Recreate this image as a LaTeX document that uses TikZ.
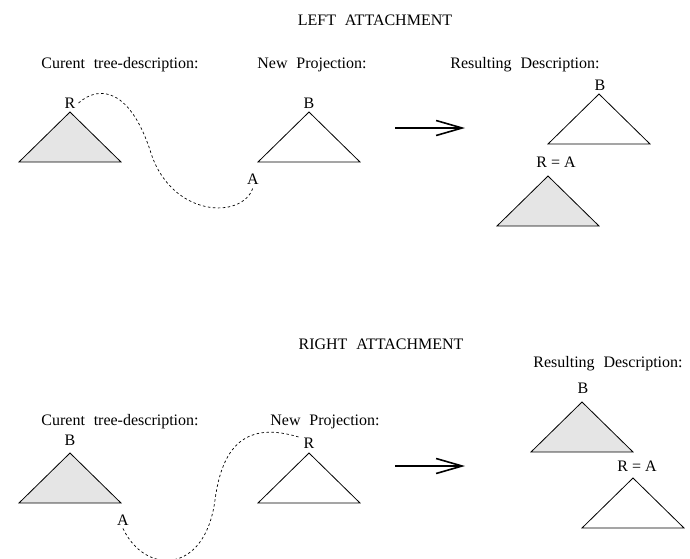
\documentclass[tikz,border=0pt]{standalone}
\usepackage{fontspec}
\setmainfont{Liberation Serif}
\usetikzlibrary{arrows.meta}

\tikzset{
  txt/.style={font=\fontsize{16}{19}\selectfont, inner sep=0pt},
  head/.style={txt, anchor=base, execute at begin node={\spaceskip=0.55em\relax}},
  gtree/.style={draw, line width=0.8pt, fill=gray!20, line join=miter},
  wtree/.style={draw, line width=0.8pt, line join=miter},
  link/.style={draw, line width=0.7pt, dash pattern=on 2.5pt off 2.5pt},
  goes/.style={draw, line width=1.7pt, -{Straight Barb[length=26pt,width=15pt,line width=1.6pt]}}
}

\begin{document}
\begin{tikzpicture}[x=1pt,y=-1pt]
\useasboundingbox (0,0) rectangle (690,558);
\clip (0,0) rectangle (690,558);

% left attachment
\node[head] (lefttitle) at (375,25) {LEFT ATTACHMENT};
\node[head] (lcurhead) at (120,68) {Curent tree-description:};
\node[head] (lnewhead) at (312,68) {New Projection:};
\node[head] (lreshead) at (525,68) {Resulting Description:};

\draw[gtree] (70,112) -- ++(51,50) -- ++(-102,0) -- cycle;
\draw[wtree] (309,112) -- ++(51,50) -- ++(-102,0) -- cycle;
\draw[wtree] (599,94) -- ++(51,50) -- ++(-102,0) -- cycle;
\draw[gtree] (548,176) -- ++(51,50) -- ++(-102,0) -- cycle;

\node[txt] (lr) at (70,103) {R};
\node[txt] (lb) at (309,103) {B};
\node[txt] (la) at (253,179) {A};
\node[txt] (lrb) at (600,85) {B};
\node[txt] (lra) at (556,162) {R = A};

\draw[link] ([xshift=3pt]lr.east) .. controls (100,84) and (130,90) .. (150,150)
  .. controls (170,218) and (243,220) .. ([yshift=-3pt]la.south);

\coordinate (lfrom) at (395,128);
\coordinate (lto) at (465,128);
\draw[goes] (lfrom) -- (lto);

% right attachment
\node[head] (righttitle) at (381,349) {RIGHT ATTACHMENT};
\node[head] (rreshead) at (608,367) {Resulting Description:};
\node[head] (rcurhead) at (120,425) {Curent tree-description:};
\node[head] (rnewhead) at (325,425) {New Projection:};

\draw[gtree] (70,453) -- ++(51,50) -- ++(-102,0) -- cycle;
\draw[wtree] (309,453) -- ++(51,50) -- ++(-102,0) -- cycle;
\draw[gtree] (582,402) -- ++(51,50) -- ++(-102,0) -- cycle;
\draw[wtree] (633,478) -- ++(51,50) -- ++(-102,0) -- cycle;

\node[txt] (rb) at (70,440) {B};
\node[txt] (rr) at (309,443) {R};
\node[txt] (ra) at (123,520) {A};
\node[txt] (rrb) at (583,388) {B};
\node[txt] (rra) at (637,466) {R = A};

\draw[link] ([yshift=-3pt]ra.south) .. controls (145,575) and (205,575) .. (215,500)
  .. controls (222,447) and (245,420) .. ([xshift=-3pt]rr.north west);

\coordinate (rfrom) at (395,466);
\coordinate (rto) at (465,466);
\draw[goes] (rfrom) -- (rto);
\end{tikzpicture}
\end{document}
